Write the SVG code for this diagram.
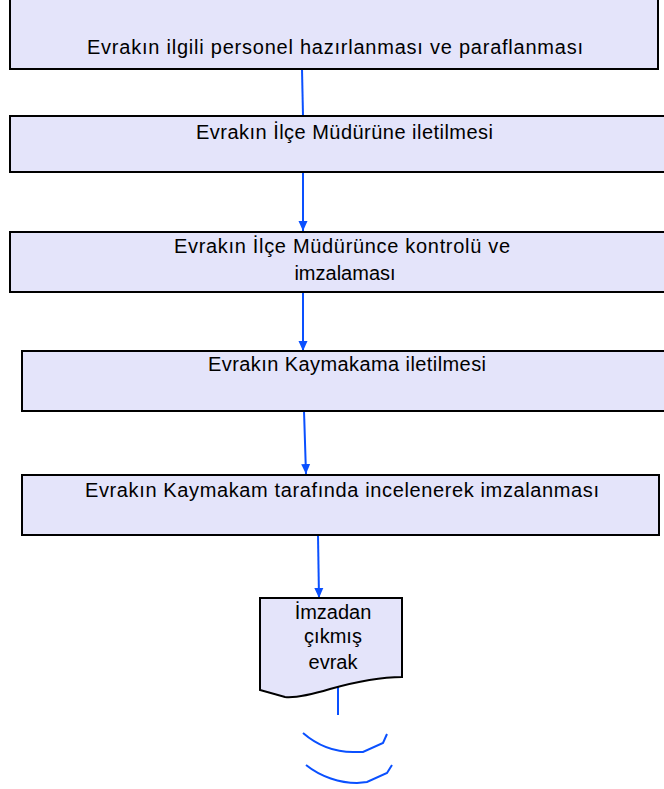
<svg xmlns="http://www.w3.org/2000/svg" width="664" height="789" viewBox="0 0 664 789">
<style>
.box{fill:#E4E4FA;stroke:#000;stroke-width:2}
.t{font-family:"Liberation Sans",Arial,sans-serif;font-size:20px;fill:#000;text-anchor:middle}
.c{stroke:#0A50FF;stroke-width:2;fill:none}
</style>
<defs>
<marker id="ah" markerWidth="10" markerHeight="10" refX="10" refY="5" orient="auto" markerUnits="userSpaceOnUse">
<path d="M0,0.5 L10,5 L0,9.5 Z" fill="#0A50FF"/>
</marker>
</defs>
<rect width="664" height="789" fill="#fff"/>
<g id="connectors">
<line class="c" x1="302" y1="69" x2="303" y2="116"/>
<line class="c" x1="303" y1="172" x2="303" y2="231" marker-end="url(#ah)"/>
<line class="c" x1="303" y1="292" x2="303" y2="351" marker-end="url(#ah)"/>
<line class="c" x1="304" y1="411" x2="306" y2="474" marker-end="url(#ah)"/>
<line class="c" x1="318" y1="535" x2="319" y2="598" marker-end="url(#ah)"/>
<line class="c" x1="338" y1="687" x2="338" y2="715"/>
<path class="c" d="M303,733 C318,746 335,752 353,752 L363,752 L383,743 L387,734"/>
<path class="c" d="M306,765 C321,777 340,783 357,783 L367,782 L387,773 L392,765"/>
</g>
<g id="n1">
<rect class="box" x="10" y="-2" width="648" height="71"/>
<text class="t" x="335" y="54" textLength="496">Evrakın ilgili personel hazırlanması ve paraflanması</text>
</g>
<g id="n2">
<rect class="box" x="10" y="116" width="660" height="56"/>
<text class="t" x="344.5" y="139" textLength="297">Evrakın İlçe Müdürüne iletilmesi</text>
</g>
<g id="n3">
<rect class="box" x="10" y="232" width="660" height="60"/>
<text class="t" x="342" y="253" textLength="336">Evrakın İlçe Müdürünce kontrolü ve</text>
<text class="t" x="345" y="280">imzalaması</text>
</g>
<g id="n4">
<rect class="box" x="22" y="351" width="650" height="60"/>
<text class="t" x="347" y="371" textLength="278">Evrakın Kaymakama iletilmesi</text>
</g>
<g id="n5">
<rect class="box" x="22" y="475" width="637" height="60"/>
<text class="t" x="342" y="497" textLength="514">Evrakın Kaymakam tarafında incelenerek imzalanması</text>
</g>
<g id="n6">
<path class="box" d="M260,598 L402,598 L402,677 C380,677 355,682 330,689 C310,695 295,698 285,697 L260,690 Z"/>
<text class="t" x="333" y="619">İmzadan</text>
<text class="t" x="333" y="643">çıkmış</text>
<text class="t" x="333" y="669">evrak</text>
</g>
</svg>
